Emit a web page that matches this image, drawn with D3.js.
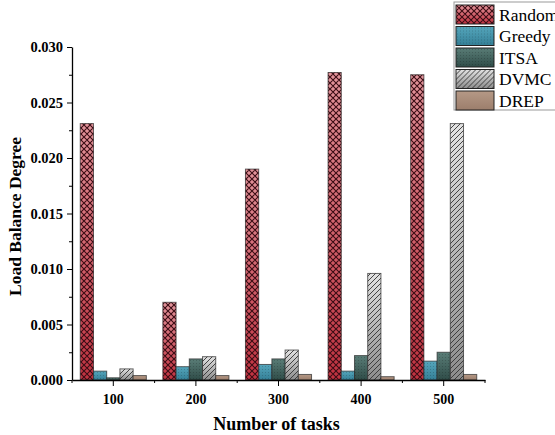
<!DOCTYPE html>
<html>
<head>
<meta charset="utf-8">
<script src="https://cdn.jsdelivr.net/npm/d3@7"></script>
<style>
  body { margin: 0; background: #fff; }
  text { font-family: "Liberation Serif", "Times New Roman", serif; }
</style>
</head>
<body>
<div id="chart"></div>
<script>
// data
const tasks = ['100', '200', '300', '400', '500'];
const algorithms = ['Random', 'Greedy', 'ITSA', 'DVMC', 'DREP'];
const random = [0.0231, 0.0070, 0.0190, 0.0277, 0.0275];
const greedy = [0.0008, 0.0012, 0.0014, 0.0008, 0.0017];
const itsa   = [0.0002, 0.0019, 0.0019, 0.0022, 0.0025];
const dvmc   = [0.0010, 0.0021, 0.0027, 0.0096, 0.0231];
const drep   = [0.0004, 0.0004, 0.0005, 0.0003, 0.0005];
const yTicks = [0, 0.005, 0.01, 0.015, 0.02, 0.025, 0.03];

const seriesValues = [random, greedy, itsa, dvmc, drep];

const styles = {
  Random: {top: '#e2939a', bottom: '#c0313f', pattern: 'cross'},
  Greedy: {top: '#55a6bc', bottom: '#347f96', pattern: 'dots'},
  ITSA:   {top: '#5a7d77', bottom: '#2f4c48', pattern: 'dots'},
  DVMC:   {top: '#e2e2e2', bottom: '#8c8c8c', pattern: 'diag'},
  DREP:   {top: '#b59986', bottom: '#9c7e6c', pattern: null}
};

const width = 555, height = 435;
const margin = {top: 47, right: 70, bottom: 55, left: 72};
const w = 485 - margin.left;
const h = 380 - margin.top;

const svg = d3.select('#chart').append('svg')
  .attr('width', width)
  .attr('height', height);

const defs = svg.append('defs');

algorithms.forEach((a, i) => {
  const st = styles[a];
  const g = defs.append('linearGradient')
    .attr('id', 'grad' + i)
    .attr('x1', 0).attr('y1', 0).attr('x2', 0).attr('y2', 1);
  g.append('stop').attr('offset', '0%').attr('stop-color', st.top);
  g.append('stop').attr('offset', '100%').attr('stop-color', st.bottom);
});

// crosshatch
let p = defs.append('pattern').attr('id', 'pat-cross')
  .attr('patternUnits', 'userSpaceOnUse').attr('width', 6).attr('height', 6);
p.append('path').attr('d', 'M0,0L6,6M6,0L0,6M-3,3L3,9M3,-3L9,3M-3,3L3,-3M3,9L9,3')
  .attr('stroke', '#3a0c14').attr('stroke-width', 1.1).attr('fill', 'none');

// diagonal
p = defs.append('pattern').attr('id', 'pat-diag')
  .attr('patternUnits', 'userSpaceOnUse').attr('width', 5).attr('height', 5);
p.append('path').attr('d', 'M0,5L5,0M-1,1L1,-1M4,6L6,4')
  .attr('stroke', '#333').attr('stroke-width', 0.9).attr('fill', 'none');

// fine dots
p = defs.append('pattern').attr('id', 'pat-dots')
  .attr('patternUnits', 'userSpaceOnUse').attr('width', 3).attr('height', 3);
p.append('rect').attr('x', 1).attr('y', 1).attr('width', 1).attr('height', 1)
  .attr('fill', '#000').attr('opacity', 0.18);

const chart = svg.append('g')
  .attr('transform', 'translate(' + margin.left + ',' + margin.top + ')');

const x0 = d3.scaleBand().domain(tasks).range([0, w]).paddingInner(0.2).paddingOuter(0.1);
const x1 = d3.scaleBand().domain(algorithms).range([0, x0.bandwidth()]);
const y = d3.scaleLinear().domain([0, 0.03]).range([h, 0]);

const data = [];
tasks.forEach((t, ti) => {
  algorithms.forEach((a, ai) => {
    data.push({task: t, alg: a, ai: ai, value: seriesValues[ai][ti]});
  });
});

const bars = chart.selectAll('.bar')
  .data(data)
  .enter().append('g')
  .attr('class', 'bar');

bars.append('rect')
  .attr('x', d => x0(d.task) + x1(d.alg))
  .attr('y', d => y(d.value))
  .attr('width', x1.bandwidth())
  .attr('height', d => h - y(d.value))
  .attr('fill', d => 'url(#grad' + d.ai + ')');

bars.filter(d => styles[d.alg].pattern)
  .append('rect')
  .attr('x', d => x0(d.task) + x1(d.alg))
  .attr('y', d => y(d.value))
  .attr('width', x1.bandwidth())
  .attr('height', d => h - y(d.value))
  .attr('fill', d => 'url(#pat-' + styles[d.alg].pattern + ')');

bars.append('rect')
  .attr('x', d => x0(d.task) + x1(d.alg))
  .attr('y', d => y(d.value))
  .attr('width', x1.bandwidth())
  .attr('height', d => h - y(d.value))
  .attr('fill', 'none')
  .attr('stroke', '#2a2a2a')
  .attr('stroke-opacity', 0.7)
  .attr('stroke-width', 1);

// y axis
const yAxis = chart.append('g')
  .call(d3.axisLeft(y).tickValues(yTicks).tickFormat(d3.format('.3f')).tickSize(5).tickSizeOuter(0));
chart.append('g')
  .call(d3.axisLeft(y).tickValues([0.0025, 0.0075, 0.0125, 0.0175, 0.0225, 0.0275]).tickFormat('').tickSize(3).tickSizeOuter(0))
  .select('.domain').remove();
yAxis.selectAll('text')
  .attr('font-size', 14.5).attr('font-weight', 'bold').attr('fill', '#000')
  .attr('font-family', 'Liberation Serif, serif').attr('x', -9);

// x axis
const xAxis = chart.append('g')
  .attr('transform', 'translate(0,' + h + ')')
  .call(d3.axisBottom(x0).tickSize(6).tickSizeOuter(0));
xAxis.selectAll('text')
  .attr('font-size', 14).attr('font-weight', 'bold').attr('fill', '#000')
  .attr('font-family', 'Liberation Serif, serif').attr('y', 14);
const bounds = d3.range(tasks.length + 1).map(i => i * x0.step());
chart.append('g').selectAll('line')
  .data(bounds).enter().append('line')
  .attr('x1', d => d).attr('x2', d => d)
  .attr('y1', h).attr('y2', h + 3)
  .attr('stroke', '#000');

svg.selectAll('.domain').attr('stroke-width', 1.3);

// axis titles
svg.append('text')
  .attr('transform', 'translate(21,' + (margin.top + h / 2 + 3) + ') rotate(-90)')
  .attr('text-anchor', 'middle')
  .attr('font-size', 17.5).attr('font-weight', 'bold')
  .text('Load Balance Degree');

svg.append('text')
  .attr('x', margin.left + w / 2 - 2)
  .attr('y', 430)
  .attr('text-anchor', 'middle')
  .attr('font-size', 18).attr('font-weight', 'bold')
  .text('Number of tasks');

// legend
const legend = svg.append('g').attr('transform', 'translate(454,2)');
legend.append('rect')
  .attr('width', 110).attr('height', 108)
  .attr('fill', '#fff').attr('stroke', '#999');

const item = legend.selectAll('.item')
  .data(algorithms)
  .enter().append('g')
  .attr('class', 'item')
  .attr('transform', (d, i) => 'translate(2,' + (3 + i * 21.5) + ')');

item.append('rect').attr('width', 38).attr('height', 19)
  .attr('fill', (d, i) => 'url(#grad' + i + ')');
item.filter(d => styles[d].pattern).append('rect').attr('width', 38).attr('height', 19)
  .attr('fill', d => 'url(#pat-' + styles[d].pattern + ')');
item.append('rect').attr('width', 38).attr('height', 19)
  .attr('fill', 'none').attr('stroke', '#222').attr('stroke-width', 1);

item.append('text')
  .attr('x', 43).attr('y', 15.5)
  .attr('font-size', 17.5)
  .text(d => d);
</script>
</body>
</html>
